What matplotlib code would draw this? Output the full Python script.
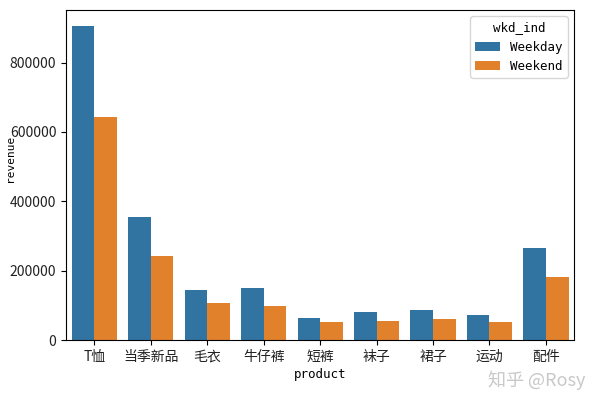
import numpy as np
from matplotlib import pyplot as plt

plt.rcParams['font.family'] = ['Noto Sans CJK SC', 'DejaVu Sans']

products = ['T恤', '当季新品', '毛衣', '牛仔裤', '短裤', '袜子', '裙子', '运动', '配件']
weekday = [906000, 354000, 144000, 150000, 63000, 80000, 86000, 72000, 265000]
weekend = [642000, 242000, 106000, 98000, 52000, 55000, 60000, 52000, 181000]

blue = '#3274a1'
orange = '#e1812c'
mono = {'family': ['DejaVu Sans Mono', 'Noto Sans CJK SC']}

fig = plt.figure(figsize=(6, 4.05), dpi=100)
ax = fig.add_axes([0.11, 0.16, 0.847, 0.815])

x = np.arange(len(products))
w = 0.4
ax.bar(x - w / 2, weekday, width=w, color=blue, label='Weekday')
ax.bar(x + w / 2, weekend, width=w, color=orange, label='Weekend')

ax.set_xlim(-0.5, len(products) - 0.5)
ax.set_ylim(0, 951000)
ax.set_xticks(x)
ax.set_xticklabels(products, fontsize=10, color='#222222')
ax.set_yticks([0, 200000, 400000, 600000, 800000])
ax.tick_params(axis='y', labelsize=10, labelcolor='#222222')
ax.set_xlabel('product', fontsize=9, labelpad=3, **mono)
ax.set_ylabel('revenue', fontsize=8, labelpad=6, **mono)
ax.yaxis.set_label_coords(-0.1, 0.55)

leg = ax.legend(title='wkd_ind', loc='upper right', prop={'size': 9, **mono},
                title_fontproperties={'size': 9, **mono})

fig.text(0.975, 0.062, '知乎 @Rosy', ha='right', va='center', fontsize=13, color='#c8c8c8')

fig.savefig('out.png', dpi=100)
